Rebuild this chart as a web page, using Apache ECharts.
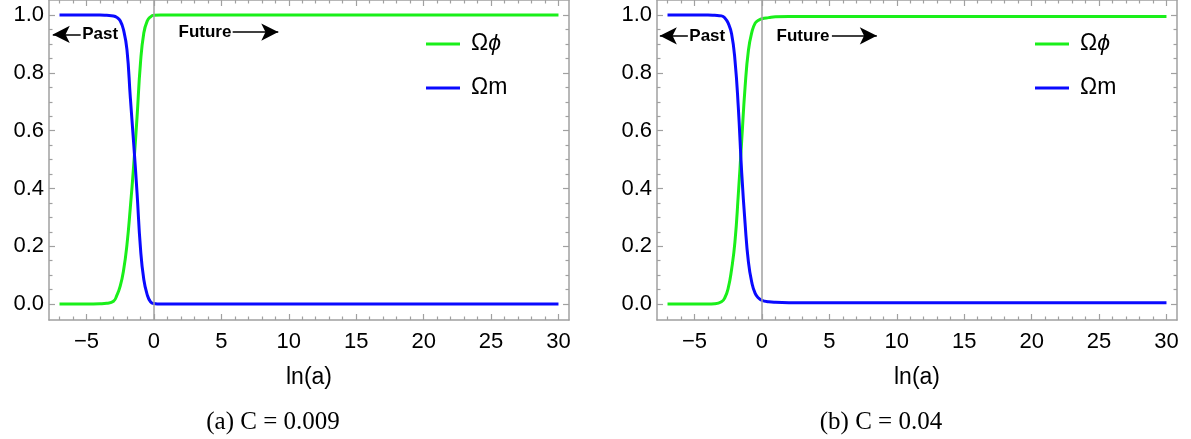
<!DOCTYPE html>
<html>
<head>
<meta charset="utf-8">
<script src="https://cdn.jsdelivr.net/npm/echarts@6/dist/echarts.min.js"></script>
<style>
  html, body { margin: 0; padding: 0; background: #fff; }
  #chart-container { width: 1191px; height: 439px; }
</style>
</head>
<body>
<div id="chart-container"></div>
<script>
// ln(a) sample points shared by both panels
var lnA = [-7, -5, -4, -3.5, -3, -2.75, -2.5, -2.25, -2, -1.75, -1.5, -1.25, -1, -0.75, -0.5, -0.25, 0, 0.5, 1, 2, 5, 10, 20, 30];

// panel (a) C = 0.009
var omegaPhiA = [0, 0, 0.001, 0.003, 0.01, 0.03, 0.062, 0.117, 0.205, 0.334, 0.48, 0.648, 0.832, 0.938, 0.979, 0.994, 0.999, 1, 1, 1, 1, 1, 1, 1];
var omegaMA = [1, 1, 1, 0.999, 0.997, 0.992, 0.98, 0.948, 0.88, 0.715, 0.555, 0.384, 0.195, 0.085, 0.033, 0.008, 0.002, 0, 0, 0, 0, 0, 0, 0];

// panel (b) C = 0.04
var omegaPhiB = [0, 0, 0, 0.001, 0.008, 0.022, 0.055, 0.12, 0.215, 0.38, 0.565, 0.75, 0.878, 0.94, 0.972, 0.982, 0.987, 0.991, 0.994, 0.995, 0.995, 0.995, 0.995, 0.995];
var omegaMB = [1, 1, 1, 0.999, 0.997, 0.99, 0.972, 0.935, 0.845, 0.68, 0.455, 0.28, 0.145, 0.075, 0.037, 0.021, 0.013, 0.008, 0.006, 0.005, 0.005, 0.005, 0.005, 0.005];

var xTicks = [-5, 0, 5, 10, 15, 20, 25, 30];
var yTicks = [0, 0.2, 0.4, 0.6, 0.8, 1.0];
var seriesNames = ['Ωϕ', 'Ωm'];
var captions = ['(a) C = 0.009', '(b) C = 0.04'];

// annotations, data units: [arrow tip, arrow tail, text left, y] and [text left, arrow start, arrow end, y]
var pastMarks = [[-7.5, -5.43, -5.35, 0.933], [-7.57, -5.49, -5.42, 0.928]];
var futureMarks = [[1.79, 5.84, 9.22, 0.941], [1.05, 5.19, 8.52, 0.928]];

var xMin = -7.78, xMax = 30.78;
var yMin = -0.055, yMax = 1.052;
var gray = '#a0a0a0';
var font = 'Liberation Sans';

var xMinor = [], yMinor = [];
for (var k = -7; k <= 30; k++) { if (k % 5 !== 0) xMinor.push(k); }
for (var j = 1; j <= 20; j++) { if (j % 4 !== 0) yMinor.push(j * 0.05); }

var chart = echarts.init(document.getElementById('chart-container'));

function axis(gi, pos, ticks, len, min, max, showLine, label) {
  return {
    type: 'value', gridIndex: gi, position: pos, min: min, max: max,
    splitLine: { show: false },
    axisLine: { show: showLine, onZero: false, lineStyle: { color: gray, width: 1.5 } },
    axisTick: { show: true, inside: true, length: len, customValues: ticks, lineStyle: { color: gray, width: 1.2 } },
    axisLabel: label ? Object.assign({ show: true, customValues: ticks, color: '#000', fontSize: 22, fontFamily: font }, label) : { show: false },
    axisPointer: { show: false }
  };
}

function zip(xs, ys) {
  return xs.map(function (x, i) { return [x, ys[i]]; });
}

var gridLefts = [49, 657];
var xAxes = [], yAxes = [], series = [];
var phiData = [omegaPhiA, omegaPhiB], mData = [omegaMA, omegaMB];

gridLefts.forEach(function (gl, i) {
  var bottom = axis(i, 'bottom', xTicks, 6, xMin, xMax, true, {
    margin: 11,
    formatter: function (v) { return String(v).replace('-', '\u2212'); }
  });
  bottom.name = 'ln(a)';
  bottom.nameLocation = 'middle';
  bottom.nameGap = 46;
  bottom.nameTextStyle = { color: '#000', fontSize: 23, fontFamily: font };
  xAxes.push(bottom,
    axis(i, 'bottom', xMinor, 3.5, xMin, xMax, false),
    axis(i, 'top', xTicks, 6, xMin, xMax, true),
    axis(i, 'top', xMinor, 3.5, xMin, xMax, false));
  yAxes.push(axis(i, 'left', yTicks, 6, yMin, yMax, true, {
      margin: 5,
      formatter: function (v) { return v.toFixed(1); }
    }),
    axis(i, 'left', yMinor, 3.5, yMin, yMax, false),
    axis(i, 'right', yTicks, 6, yMin, yMax, true),
    axis(i, 'right', yMinor, 3.5, yMin, yMax, false));

  var p = pastMarks[i], f = futureMarks[i];
  var textLabel = { show: true, position: 'right', distance: 0, formatter: '{b}',
    color: '#000', fontWeight: 'bold', fontSize: 17, fontFamily: font };

  series.push({
    name: seriesNames[0], type: 'line', xAxisIndex: 4 * i, yAxisIndex: 4 * i,
    data: zip(lnA, phiData[i]), showSymbol: false, smooth: 0.5,
    color: '#1aef1a', lineStyle: { width: 3, color: '#1aef1a' },
    markLine: {
      silent: true, symbol: 'none', label: { show: false },
      lineStyle: { type: 'solid', color: gray, width: 1.5 },
      data: [{ xAxis: 0 }]
    }
  }, {
    name: seriesNames[1], type: 'line', xAxisIndex: 4 * i, yAxisIndex: 4 * i,
    data: zip(lnA, mData[i]), showSymbol: false, smooth: 0.5,
    color: '#0a0aff', lineStyle: { width: 3, color: '#0a0aff' },
    markLine: {
      silent: true, symbol: ['none', 'arrow'], symbolSize: [13, 17], label: { show: false },
      lineStyle: { type: 'solid', color: '#000', width: 1.5 },
      data: [
        [{ coord: [p[1], p[3]] }, { coord: [p[0], p[3]] }],
        [{ coord: [f[1], f[3]] }, { coord: [f[2], f[3]] }]
      ]
    },
    markPoint: {
      silent: true, symbol: 'circle', symbolSize: 1,
      itemStyle: { color: 'rgba(0,0,0,0)' },
      label: textLabel,
      data: [
        { name: 'Past', coord: [p[2], p[3]] },
        { name: 'Future', coord: [f[0], f[3]] }
      ]
    }
  });
});

var options = {
  animation: false,
  backgroundColor: '#fff',
  grid: gridLefts.map(function (gl) {
    return { left: gl, top: 0, width: 520, height: 320, outerBoundsMode: 'none' };
  }),
  legend: [421, 1030].map(function (lx) {
    return {
      orient: 'vertical', left: lx, top: 27, icon: 'rect',
      itemWidth: 34, itemHeight: 3, itemGap: 20, selectedMode: false,
      data: seriesNames,
      formatter: function (n) { return n === 'Ωϕ' ? 'Ω{i|ϕ}' : n; },
      textStyle: {
        color: '#000', fontSize: 23, fontFamily: font, lineHeight: 24, padding: [0, 0, 0, 6],
        rich: { i: { fontStyle: 'italic', fontSize: 23, fontFamily: font, color: '#000' } }
      }
    };
  }),
  xAxis: xAxes,
  yAxis: yAxes,
  series: series,
  graphic: captions.map(function (t, i) {
    return {
      type: 'text', x: [273, 881][i], y: 422,
      style: { text: t, font: '25px "Liberation Serif"', fill: '#000', align: 'center', verticalAlign: 'middle' }
    };
  })
};

chart.setOption(options);
</script>
</body>
</html>
